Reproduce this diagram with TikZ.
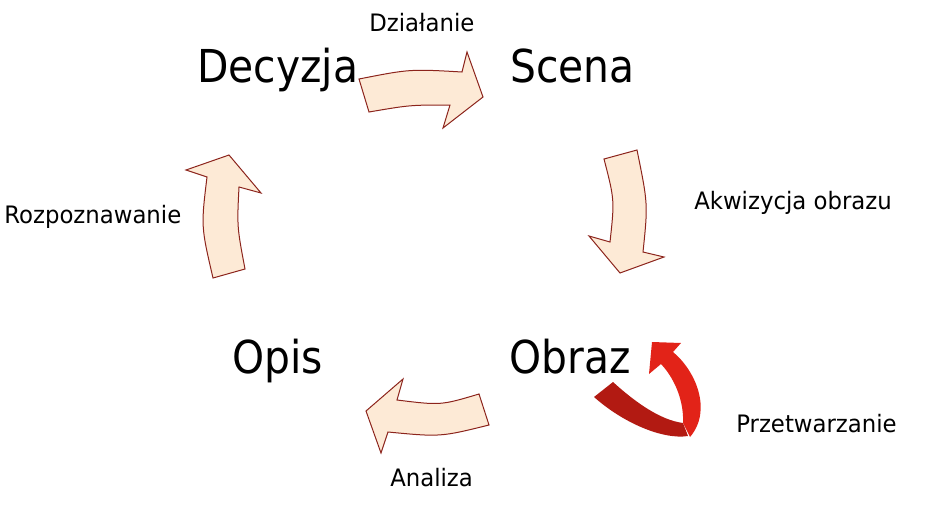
\documentclass[tikz,border=0pt]{standalone}
\usepackage{fontspec}
\newfontfamily\tahbig{DejaVu Sans}[FakeStretch=0.9]
\newfontfamily\tahsmall{DejaVu Sans}[FakeStretch=0.95]
\definecolor{peach}{RGB}{253,234,214}
\definecolor{edgered}{RGB}{140,36,28}
\definecolor{darkred}{RGB}{178,26,18}
\definecolor{brightred}{RGB}{226,35,24}
\begin{document}
\begin{tikzpicture}[x=0.75pt,y=-0.75pt,
  big/.style={anchor=base west,inner sep=0pt,font=\tahbig\fontsize{34}{40}\selectfont},
  small/.style={anchor=base west,inner sep=0pt,font=\tahsmall\fontsize{18}{22}\selectfont},
  blockarrow/.style={fill=peach,draw=edgered,line width=0.75pt,line join=miter}]
\useasboundingbox (0,0) rectangle (938,518);
% labels
\node[big] (dec) at (197,82) {Decyzja};
\node[big] (sce) at (510,82) {Scena};
\node[big] (opi) at (232,373) {Opis};
\node[big] (obr) at (509,373) {Obraz};
\node[small] (dzi) at (369,31) {Działanie};
\node[small] (akw) at (694,209) {Akwizycja obrazu};
\node[small] (roz) at (4,223) {Rozpoznawanie};
\node[small] (prz) at (736,432) {Przetwarzanie};
\node[small] (ana) at (390,486) {Analiza};
% top arrow (Decyzja -> Scena)
\draw[blockarrow] (359,79) .. controls (410,69) and (410,69) .. (462,72)
  -- (467,52) -- (483,97) -- (443,128) -- (450,105)
  .. controls (410,105) and (410,105) .. (369,112) -- cycle;
% right arrow (Scena -> Obraz)
\draw[blockarrow] (604,159) -- (637,150)
  .. controls (648,204) and (648,204) .. (643,252)
  -- (664,257) -- (620,273) -- (589,236) -- (610,242)
  .. controls (614.6,200) and (614.6,200) .. cycle;
% bottom arrow (Obraz -> Opis)
\draw[blockarrow] (479,394) -- (489,425)
  .. controls (440.5,437) and (440.5,437) .. (388,432)
  -- (381,453) -- (366,411) -- (403,379) -- (397,400)
  .. controls (440.7,405.4) and (440.7,405.4) .. cycle;
% left arrow (Opis -> Decyzja)
\draw[blockarrow] (213,278) -- (245,269)
  .. controls (237,226.7) and (237,226.7) .. (239,187)
  -- (261,193) -- (229,155) -- (186,170) -- (207,177)
  .. controls (201,226.4) and (201,226.4) .. cycle;
% red arrow (Przetwarzanie)
\fill[darkred] (594,397) -- (613,382)
  .. controls (635,402) and (660,420) .. (683,423)
  -- (688,436)
  .. controls (662,440) and (622,422) .. cycle;
\fill[brightred] (683,423)
  .. controls (684,403) and (676,380) .. (661,364)
  -- (649,374) -- (652,342) -- (681,343) -- (673,352)
  .. controls (695,370) and (713,410) .. (690,437) -- cycle;
\end{tikzpicture}
\end{document}
